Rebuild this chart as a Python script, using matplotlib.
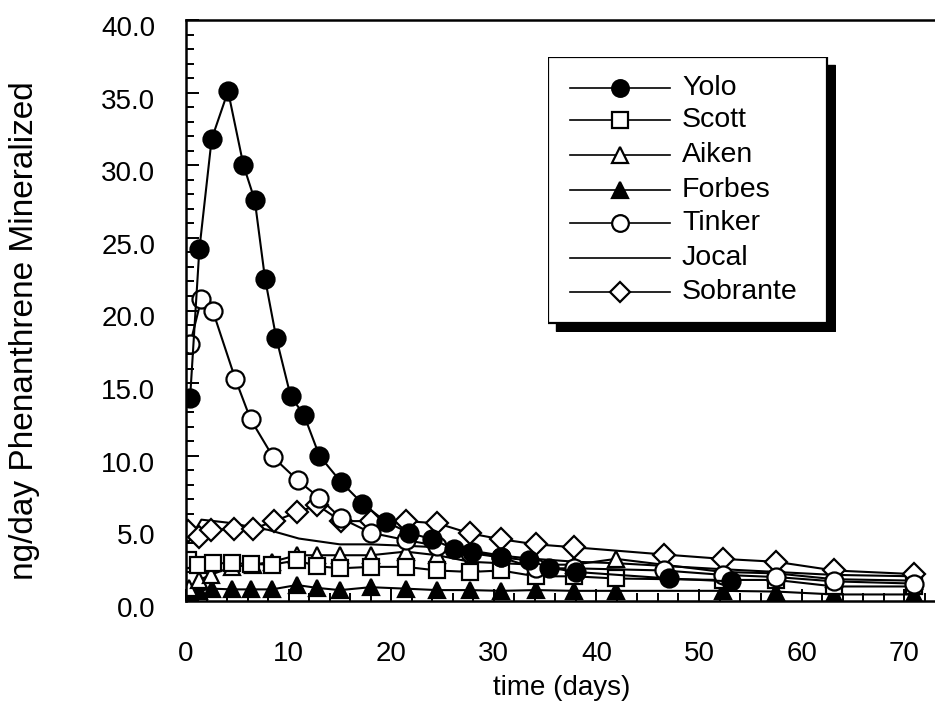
import matplotlib
matplotlib.use("Agg")
import matplotlib.pyplot as plt
from matplotlib.patches import Rectangle
from matplotlib.lines import Line2D
from matplotlib.ticker import MultipleLocator, FormatStrFormatter
import matplotlib.transforms as mtransforms

plt.rcParams['font.family'] = ['Liberation Sans', 'DejaVu Sans']

# ---------------- data ----------------
yolo_days = [0.4, 1.3, 2.5, 4.1, 5.6, 6.7, 7.7, 8.8, 10.2, 11.5, 13.0, 15.1, 17.2, 19.5,
             21.7, 24.0, 26.1, 27.9, 30.7, 33.4, 35.4, 38.0, 47.1, 53.1]
yolo_vals = [14.0, 24.2, 31.8, 35.1, 30.0, 27.6, 22.2, 18.1, 14.1, 12.8, 10.0, 8.2, 6.7, 5.45,
             4.7, 4.25, 3.6, 3.4, 3.0, 2.8, 2.3, 2.0, 1.55, 1.35]

scott_days = [0.2, 1.2, 2.6, 4.5, 6.3, 8.4, 10.8, 12.8, 15.0, 18.0, 21.4, 24.5, 27.7, 30.7,
              34.1, 37.8, 41.9, 52.3, 57.5, 63.2, 71.0]
scott_vals = [2.85, 2.5, 2.6, 2.6, 2.55, 2.5, 2.8, 2.4, 2.25, 2.35, 2.35, 2.1, 2.0, 2.1,
              1.7, 1.7, 1.55, 1.45, 1.45, 1.0, 1.0]

aiken_days = [0.3, 1.3, 2.4, 4.5, 6.5, 8.4, 10.8, 12.8, 15.0, 18.0, 21.4, 24.5, 27.7, 30.7,
              34.1, 37.8, 41.9, 52.3, 57.5, 63.2, 71.0]
aiken_vals = [0.9, 1.45, 1.8, 2.35, 2.5, 2.7, 3.15, 3.15, 3.15, 3.15, 3.4, 3.15, 2.7, 2.6,
              2.5, 2.5, 2.9, 2.0, 1.9, 1.5, 1.4]

forbes_days = [0.3, 1.3, 2.5, 4.5, 6.3, 8.4, 10.8, 12.8, 15.0, 18.0, 21.4, 24.5, 27.7, 30.7,
               34.1, 37.8, 41.9, 52.3, 57.5, 63.2, 71.0]
forbes_vals = [0.65, 0.7, 0.85, 0.8, 0.8, 0.8, 1.1, 0.9, 0.75, 0.95, 0.85, 0.75, 0.75, 0.7,
               0.75, 0.7, 0.7, 0.7, 0.65, 0.45, 0.45]

tinker_days = [0.4, 1.5, 2.6, 4.8, 6.3, 8.5, 10.9, 13.0, 15.1, 18.0, 21.4, 24.5, 27.7, 30.7,
               34.1, 37.8, 46.6, 52.3, 57.5, 63.2, 71.0]
tinker_vals = [17.7, 20.8, 20.0, 15.3, 12.5, 9.9, 8.3, 7.1, 5.7, 4.7, 4.2, 3.8, 3.3, 3.0,
               2.25, 2.25, 2.1, 1.8, 1.65, 1.35, 1.2]

jocal_days = [0.3, 1.5, 4.0, 8.0, 11.0, 13.0, 15.0, 18.0, 21.5, 24.5, 27.5, 31.0, 34.0,
              38.0, 42.0, 47.0, 52.0, 57.5, 63.0, 71.0]
jocal_vals = [4.2, 5.6, 5.4, 4.9, 4.3, 4.1, 3.9, 3.9, 3.8, 3.7, 3.5, 3.1, 2.9,
              2.7, 2.6, 2.4, 2.2, 2.0, 1.8, 1.7]

sobrante_days = [0.2, 1.3, 2.4, 4.7, 6.5, 8.6, 10.8, 12.8, 15.1, 18.0, 21.4, 24.5, 27.7, 30.7,
                 34.1, 37.8, 46.6, 52.3, 57.5, 63.2, 71.0]
sobrante_vals = [4.8, 4.4, 4.9, 4.95, 4.95, 5.5, 6.1, 6.6, 5.5, 5.5, 5.5, 5.35, 4.65, 4.25,
                 3.9, 3.7, 3.2, 2.9, 2.7, 2.1, 1.85]

series_names = ["Yolo", "Scott", "Aiken", "Forbes", "Tinker", "Jocal", "Sobrante"]
y_ticks = [0, 5, 10, 15, 20, 25, 30, 35, 40]
x_ticks = [0, 10, 20, 30, 40, 50, 60, 70]

# ---------------- figure ----------------
W, H = 935, 709
fig = plt.figure(figsize=(W / 100, H / 100), dpi=100)
ax = fig.add_axes([186 / W, 1 - 601 / H, (W - 186) / W, (601 - 20) / H])

LW = 1.5
MEW = 1.6
styles = {
    "Yolo": dict(marker='o', ms=13, mfc='black', mec='black'),
    "Scott": dict(marker='s', ms=12, mfc='white', mec='black'),
    "Aiken": dict(marker='^', ms=12, mfc='white', mec='black'),
    "Forbes": dict(marker='^', ms=12, mfc='black', mec='black'),
    "Tinker": dict(marker='o', ms=13, mfc='white', mec='black'),
    "Jocal": dict(marker='None'),
    "Sobrante": dict(marker='D', ms=11, mfc='white', mec='black'),
}
data = {
    "Yolo": (yolo_days, yolo_vals),
    "Scott": (scott_days, scott_vals),
    "Aiken": (aiken_days, aiken_vals),
    "Forbes": (forbes_days, forbes_vals),
    "Tinker": (tinker_days, tinker_vals),
    "Jocal": (jocal_days, jocal_vals),
    "Sobrante": (sobrante_days, sobrante_vals),
}
draw_order = ["Jocal", "Forbes", "Aiken", "Scott", "Sobrante", "Tinker", "Yolo"]
for name in draw_order:
    d, v = data[name]
    ax.plot(d, v, color='black', lw=LW, mew=MEW, **styles[name])

ax.set_xlim(0, 73)
ax.set_ylim(0, 40)
ax.set_xticks(x_ticks)
ax.set_yticks(y_ticks)
ax.xaxis.set_minor_locator(MultipleLocator(2))
ax.yaxis.set_minor_locator(MultipleLocator(1))
ax.yaxis.set_major_formatter(FormatStrFormatter('%.1f'))

ax.spines['right'].set_visible(False)
for s in ['left', 'bottom', 'top']:
    ax.spines[s].set_linewidth(1.8)
ax.tick_params(axis='both', which='both', direction='in', width=1.4, top=False, right=False)
ax.tick_params(axis='both', which='major', length=9)
ax.tick_params(axis='both', which='minor', length=6)
ax.tick_params(axis='y', which='major', labelsize=20, pad=22)
ax.tick_params(axis='x', which='major', labelsize=20, pad=29)

off = mtransforms.ScaledTranslation(0, -0.06, fig.dpi_scale_trans)
for lab in ax.get_yticklabels():
    lab.set_transform(lab.get_transform() + off)

ax.set_xlabel("time (days)", fontsize=20, va='top')
ax.xaxis.set_label_coords(0.502, -0.128)
ax.set_ylabel("ng/day Phenanthrene Mineralized", fontsize=24)
ax.yaxis.set_label_coords(-0.195, 0.465)

# ---------------- legend ----------------
lx0, ly0, lx1, ly1 = 548, 57, 827, 323
lax = fig.add_axes([lx0 / W, 1 - (ly1 + 9) / H, (lx1 - lx0 + 9) / W, (ly1 - ly0 + 9) / H])
lax.set_xlim(0, lx1 - lx0 + 9)
lax.set_ylim(ly1 - ly0 + 9, 0)
lax.axis('off')
bw, bh = lx1 - lx0, ly1 - ly0
lax.add_patch(Rectangle((8, 8), bw, bh, facecolor='black', edgecolor='black', zorder=1))
lax.add_patch(Rectangle((0, 0), bw, bh, facecolor='white', edgecolor='black', lw=1.6, zorder=2))
rows = [31, 63, 98, 133, 166, 201, 235]
for name, ry in zip(series_names, rows):
    lax.add_line(Line2D([22, 122], [ry, ry], color='black', lw=1.2, zorder=3))
    st = dict(styles[name])
    if st.get('marker', 'None') != 'None':
        st['ms'] = st['ms'] - 1
        lax.add_line(Line2D([72], [ry], color='black', lw=0, mew=MEW, zorder=4, **st))
    lax.text(134, ry, name, fontsize=20.5, va='center', ha='left', zorder=5)

fig.savefig("out.png", dpi=100)
